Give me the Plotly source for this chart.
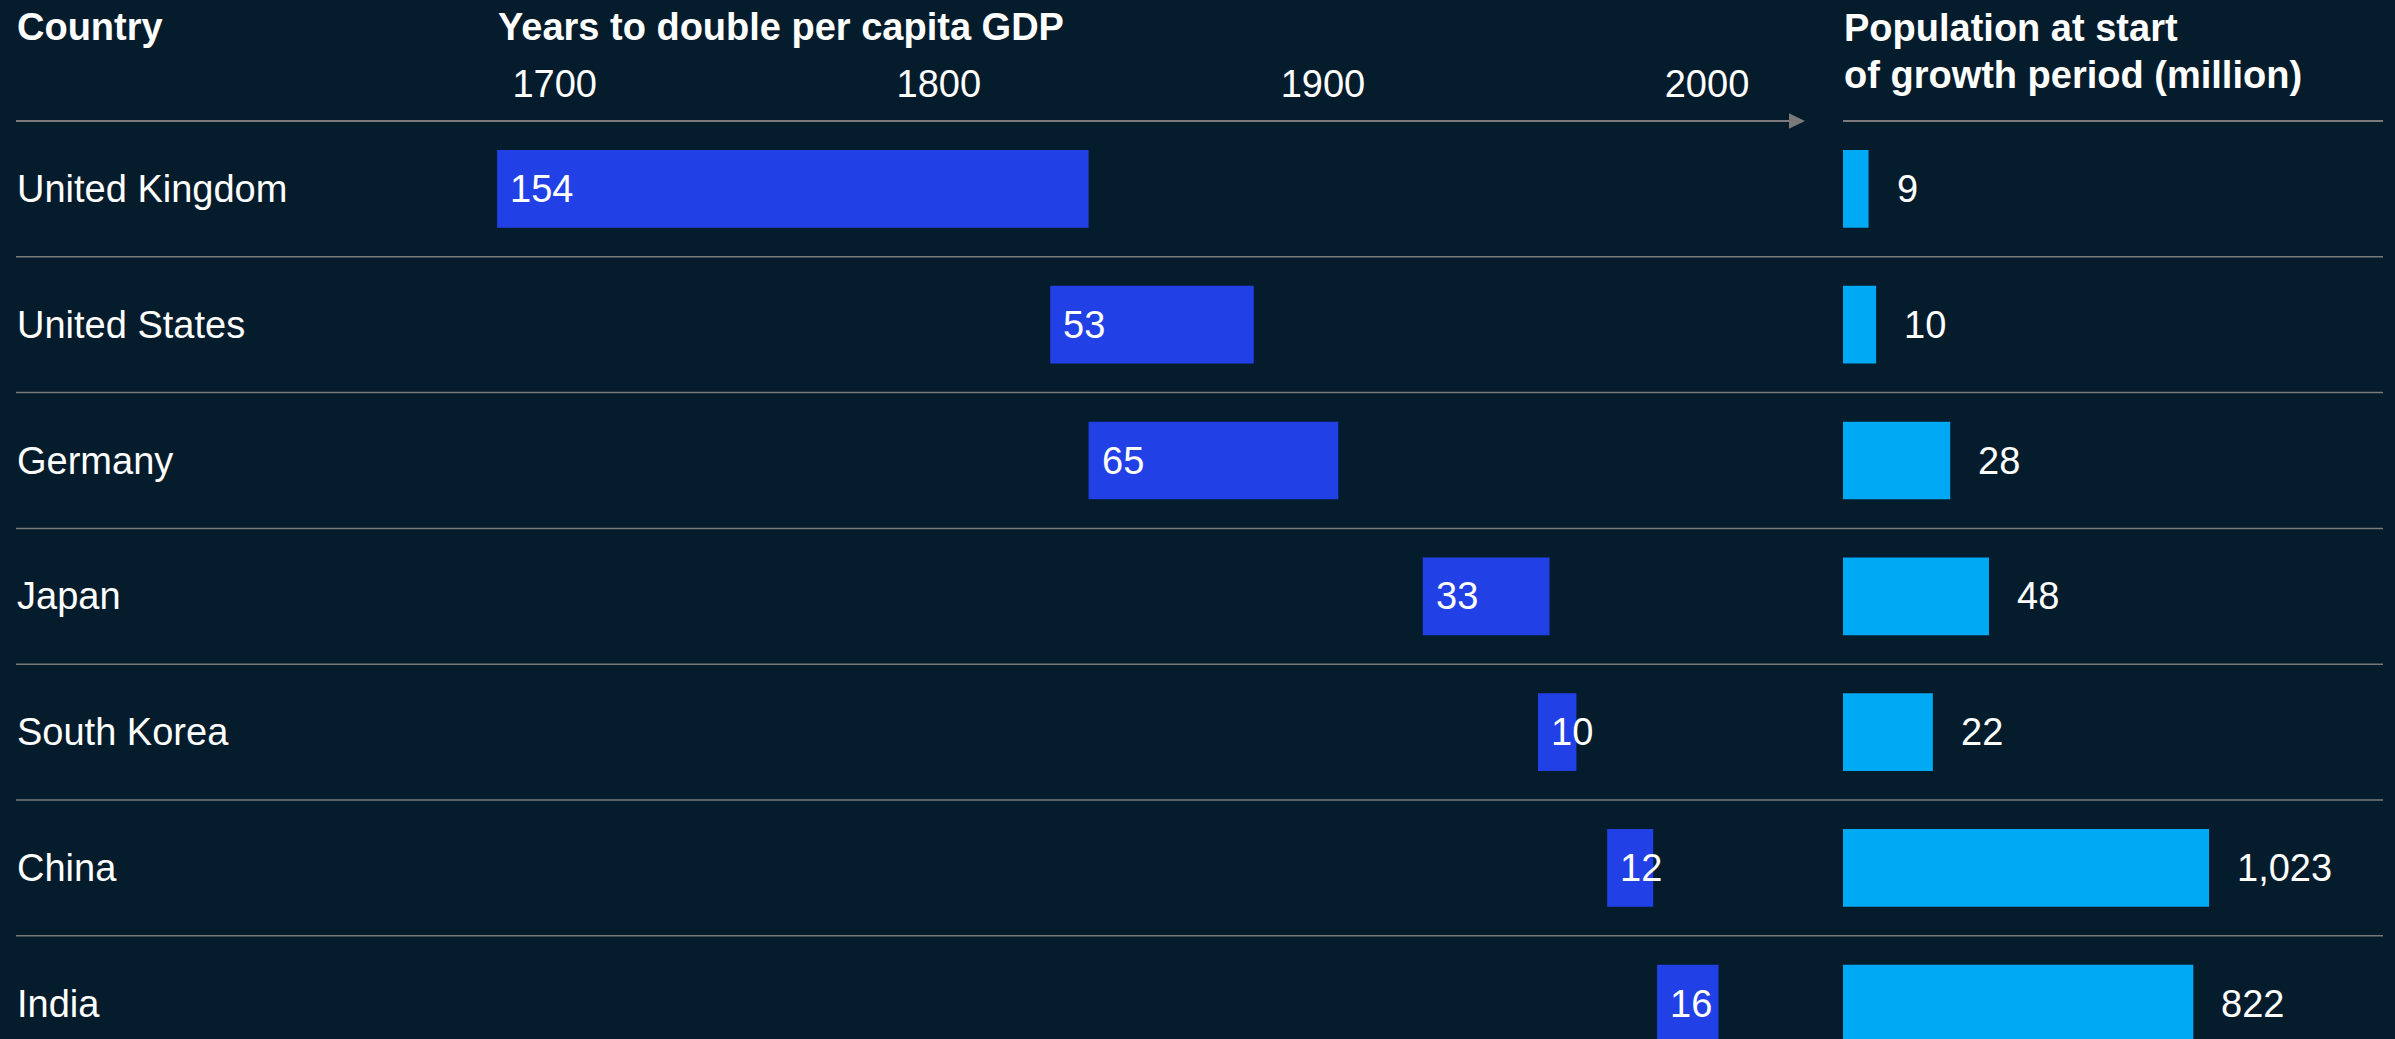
import math
import plotly.graph_objects as go

# ---- data -------------------------------------------------------------
countries = ["United Kingdom", "United States", "Germany", "Japan",
             "South Korea", "China", "India"]
start_year = [1685, 1829, 1839, 1926, 1956, 1974, 1987]   # start of growth period
years_to_double = [154, 53, 65, 33, 10, 12, 16]           # years to double GDP per capita
population_m = [9, 10, 28, 48, 22, 1023, 822]             # population at start (million)
year_ticks = [1700, 1800, 1900, 2000]

# ---- canvas / style ---------------------------------------------------
W, H = 2395, 1039
BG = "#051C2C"
BLUE = "#2140E6"
CYAN = "#00A9F4"
GRID = "#7A7A7A"
FONT = "Arial, Liberation Sans, sans-serif"
FS = 38


def fx(px):
    return px / W


def fy(px):
    return 1 - px / H


TOP = 121            # header rule / top of the rows
PITCH = 135.8        # row height in pixels
BAR_W = 0.572        # bar thickness as a fraction of a row

# timeline axis: 1700 sits at x=554.7 px, 3.841 px per year
TL_X0, TL_X1 = 480, 1805
PX_PER_YEAR = 3.841


def px_to_year(px):
    return 1700 + (px - 554.7) / PX_PER_YEAR


fig = go.Figure()

fig.add_trace(go.Bar(
    y=countries, x=years_to_double, base=start_year, orientation="h",
    marker=dict(color=BLUE, line=dict(width=0)), width=BAR_W,
    xaxis="x", yaxis="y", hoverinfo="skip", showlegend=False,
))

fig.add_trace(go.Bar(
    y=countries, x=population_m, orientation="h",
    marker=dict(color=CYAN, line=dict(width=0)), width=BAR_W,
    xaxis="x2", yaxis="y", hoverinfo="skip", showlegend=False,
))

annotations = []

# column headers
hdr = dict(xref="paper", yref="paper", showarrow=False, xanchor="left",
           yanchor="middle", font=dict(family=FONT, size=FS, color="white"))
annotations.append(dict(hdr, x=fx(15), y=fy(27), text="<b>Country</b>"))
annotations.append(dict(hdr, x=fx(496), y=fy(27),
                        text="<b>Years to double per capita GDP</b>"))
annotations.append(dict(hdr, x=fx(1842), y=fy(28.5),
                        text="<b>Population at start</b>"))
annotations.append(dict(hdr, x=fx(1842), y=fy(74.5),
                        text="<b>of growth period (million)</b>"))

txt = dict(showarrow=False, yanchor="middle",
           font=dict(family=FONT, size=FS, color="white"))

for c, s, d, p in zip(countries, start_year, years_to_double, population_m):
    # country name
    annotations.append(dict(txt, xref="paper", yref="y", x=fx(15), y=c,
                            xanchor="left", text=c))
    # duration label inside the start of the timeline bar
    annotations.append(dict(txt, xref="x", yref="y", x=s, y=c,
                            xanchor="left", xshift=11, text=str(d)))
    # population label just past the end of its bar (log axis -> log10 position)
    annotations.append(dict(txt, xref="x2", yref="y", x=math.log10(p), y=c,
                            xanchor="left", xshift=26, text=f"{p:,}"))

shapes = []
# header rules
shapes.append(dict(type="line", xref="paper", yref="paper",
                   x0=fx(16), x1=fx(1790), y0=fy(TOP), y1=fy(TOP),
                   line=dict(color=GRID, width=2)))
shapes.append(dict(type="path", xref="paper", yref="paper",
                   path=f"M {fx(1789)},{fy(113.3)} L {fx(1805)},{fy(TOP)} "
                        f"L {fx(1789)},{fy(128.7)} Z",
                   fillcolor=GRID, line=dict(width=0)))
shapes.append(dict(type="line", xref="paper", yref="paper",
                   x0=fx(1843), x1=fx(2383), y0=fy(TOP), y1=fy(TOP),
                   line=dict(color=GRID, width=2)))
# row separators
for i in range(len(countries) - 1):
    shapes.append(dict(type="line", xref="paper", yref="y",
                       x0=fx(16), x1=fx(2383), y0=i + 0.5, y1=i + 0.5,
                       line=dict(color=GRID, width=1.5)))

y_bottom = -0.5 + (H - TOP) / PITCH

fig.update_layout(
    width=W, height=H,
    margin=dict(l=0, r=0, t=0, b=0),
    paper_bgcolor=BG, plot_bgcolor=BG,
    font=dict(family=FONT, size=FS, color="white"),
    barmode="overlay",
    xaxis=dict(
        domain=[fx(TL_X0), fx(TL_X1)],
        range=[px_to_year(TL_X0), px_to_year(TL_X1)],
        side="top", anchor="y",
        tickmode="array", tickvals=year_ticks,
        ticktext=[str(t) for t in year_ticks],
        ticks="", showgrid=False, zeroline=False, showline=False,
        tickfont=dict(family=FONT, size=FS, color="white"),
        ticklabelstandoff=15,
        fixedrange=True,
    ),
    xaxis2=dict(
        domain=[fx(1843), fx(2383)],
        type="log", range=[0.80, 4.06],
        anchor="y", visible=False, fixedrange=True,
    ),
    yaxis=dict(
        domain=[0, fy(TOP)],
        type="category", categoryorder="array", categoryarray=countries,
        range=[y_bottom, -0.5],
        visible=False, fixedrange=True,
    ),
    annotations=annotations,
    shapes=shapes,
)

fig.write_html("out.html", config={"displayModeBar": False})
